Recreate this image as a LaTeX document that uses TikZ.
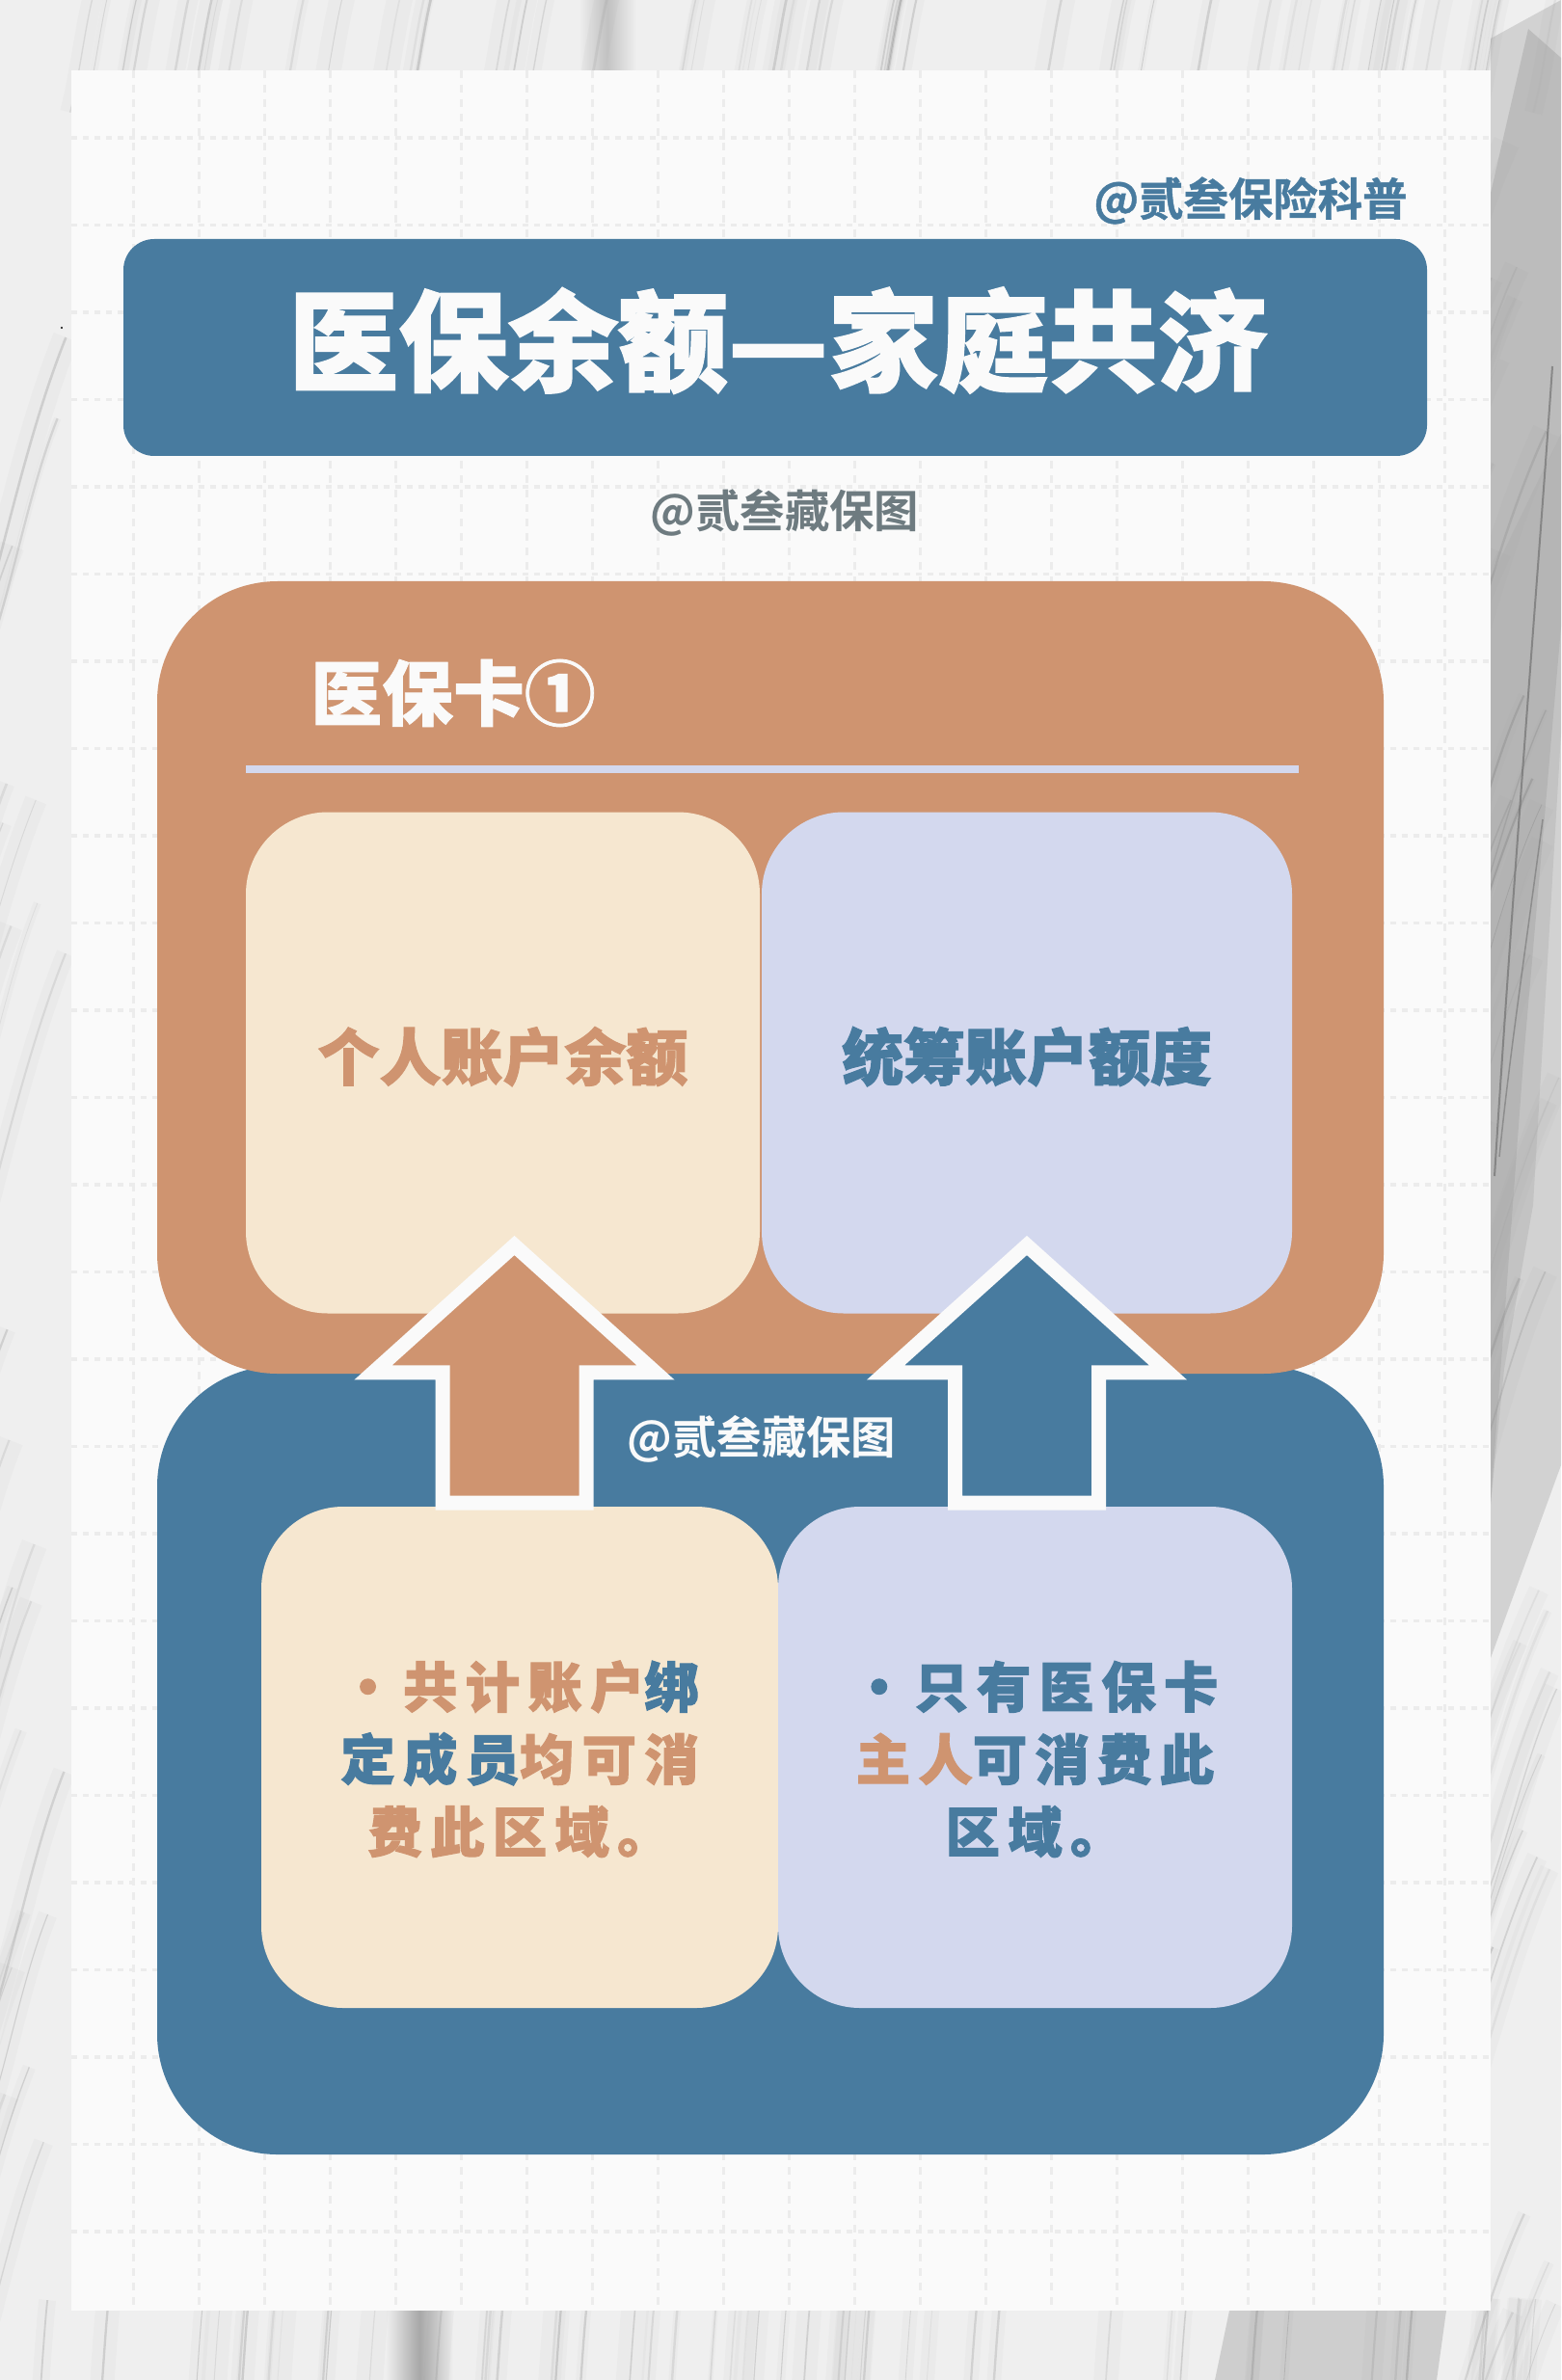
\documentclass[tikz,border=0pt]{standalone}
\usepackage{fontspec}
\usetikzlibrary{shapes.arrows}
\newfontfamily\heavyfont{Noto Sans CJK SC Black}
\newfontfamily\boldfont{Noto Sans CJK SC Bold}
\definecolor{bluepanel}{HTML}{487B9F}
\definecolor{peach}{HTML}{CF9470}
\definecolor{cream}{HTML}{F6E7D0}
\definecolor{lavender}{HTML}{D3D8EE}
\definecolor{paper}{HTML}{FAFAFA}
\definecolor{gridgrey}{HTML}{ECECEC}
\definecolor{markgrey}{HTML}{6E7B80}
\definecolor{marble}{HTML}{EFEFEF}
\definecolor{marbledark}{HTML}{A8A8A8}
\tikzset{
  panel/.style = {rounded corners = 1.25cm, minimum width = 12.72cm, inner sep = 0pt, outer sep = 0pt},
  card/.style = {rounded corners = 0.85cm, inner sep = 0pt, outer sep = 0pt, minimum height = 5.2cm},
  fatarrow/.style = {single arrow, shape border rotate = 90, anchor = tail, draw = paper, line width = 0.15cm,
    minimum height = 2.67cm, single arrow head extend = 0.72cm,
    single arrow tip angle = 96, inner xsep = 0.67cm, inner ysep = 0pt, outer sep = 0pt},
  cardhead/.style = {font = \heavyfont\addfontfeature{FakeBold = 1.5}\fontsize{18.2}{22}\selectfont, text height = 0.56cm, text depth = 0.2cm},
  cardnote/.style = {align = center, font = \heavyfont\addfontfeature{LetterSpace = 15, FakeBold = 2}\fontsize{16}{21.4}\selectfont}
}
\begin{document}
\begin{tikzpicture}
\useasboundingbox (0,0) rectangle (16.19,-24.69);
% marble behind the sheet
\begin{scope}
\clip (0,0) rectangle (16.19,-24.69);
\fill[marble] (0,0) rectangle (16.19,-24.69);
\fill[marbledark, opacity = 0.4] (15.46,-0.4) -- (16.19,0) -- (16.19,-15.2) -- (15.46,-17.2) -- cycle;
\fill[marbledark, opacity = 0.5] (15.46,-2.0) -- (15.85,-0.3) -- (16.19,-0.6) -- (16.19,-6.5) -- (15.8,-11.0) -- (15.46,-15.6) -- cycle;
\fill[marbledark, opacity = 0.35] (15.46,-6.0) -- (16.19,-4.5) -- (16.19,-7.6) -- (15.9,-12.5) -- (15.6,-14.2) -- (15.46,-15.6) -- cycle;
\fill[marbledark, opacity = 0.45] (12.75,-23.97) -- (15.0,-23.97) -- (14.9,-24.69) -- (12.6,-24.69) -- cycle;
\shade[left color = marble, right color = marble, middle color = marbledark] (4.0,-23.97) rectangle (4.7,-24.69);
\shade[left color = marble, right color = marble, middle color = marbledark!60!marble] (6.0,0) rectangle (6.6,-0.73);
\pgfmathsetseed{2301}
\foreach \xa/\xb/\ya/\yb/\lean/\least/\reach/\many in {0/16.19/-0.2/-0.1/-0.2/1.2/0.3/50, 0/16.19/23.8/23.9/-0.08/1.2/0.3/50, 0/0.74/0.7/24/-0.3/2.5/3.0/22, 15.46/16.19/0.7/24/-0.35/2.5/2.5/34}{
  \foreach \k in {1,...,\many}{
    \pgfmathsetmacro\sx{\xa+rnd*(\xb-\xa)}
    \pgfmathsetmacro\sy{\ya+rnd*(\yb-\ya)}
    \pgfmathsetmacro\len{\least+rnd*\reach}
    \pgfmathsetmacro\tone{20+rnd*45}
    \pgfmathsetmacro\thick{0.008+rnd*0.02}
    \pgfmathsetmacro\wide{0.05+rnd*0.25}
    \draw[black!40!marble, line width = \wide cm, opacity = 0.05]
      (\sx,-\sy) .. controls (\sx+\lean*\len*0.4,-\sy-\len*0.3) and (\sx+\lean*\len*0.6,-\sy-\len*0.7) .. (\sx+\lean*\len,-\sy-\len);
    \draw[black!\tone!marble, line width = \thick cm, opacity = 0.2]
      (\sx,-\sy) .. controls (\sx+\lean*\len*0.4,-\sy-\len*0.3) and (\sx+\lean*\len*0.6,-\sy-\len*0.7) .. (\sx+\lean*\len,-\sy-\len);
  }
}
\draw[black!60, line width = 0.02cm, opacity = 0.6] (16.1,-3.8) .. controls (15.95,-6) and (15.7,-9) .. (15.5,-12.2);
\draw[black!60, line width = 0.015cm, opacity = 0.5] (16.0,-8.5) .. controls (15.8,-10) and (15.65,-11) .. (15.55,-12.0);
\fill[black] (0.64,-3.4) circle (0.012);
\end{scope}
% sheet with its squares
\fill[paper] (0.74,-0.73) rectangle (15.46,-23.97);
\foreach \gx in {1.38,2.06,...,15.4}{
  \draw[gridgrey, line width = 0.03cm, dash pattern = on 0.08cm off 0.07cm] (\gx,-0.73) -- (\gx,-23.97);
}
\foreach \gy in {1.43,2.335,...,23.9}{
  \draw[gridgrey, line width = 0.035cm, dash pattern = on 0.06cm off 0.06cm] (0.74,-\gy) -- (15.46,-\gy);
}
% heading
\node[font = \boldfont\addfontfeature{FakeBold = 1}\fontsize{13.2}{16}\selectfont, text = bluepanel] (account) at (12.97,-2.08) {@贰叁保险科普};
\node[fill = bluepanel, text = paper, rounded corners = 0.32cm, minimum width = 13.52cm, minimum height = 2.25cm, inner sep = 0pt,
  font = \heavyfont\addfontfeature{FakeBold = 1.5}\fontsize{32.4}{36}\selectfont, text height = 1.0cm, text depth = 0.27cm] (title) at (8.04,-3.605) {\hspace*{0.06cm}医保余额—家庭共济};
\node[font = \boldfont\fontsize{13.2}{16}\selectfont, text = markgrey] (markA) at (8.14,-5.32) {@贰叁藏保图};
% the two panels
\node[panel, fill = bluepanel, minimum height = 8.18cm] (lower) at (7.99,-18.26) {};
\node[panel, fill = peach, minimum height = 8.22cm] (upper) at (7.99,-10.14) {};
\node[font = \heavyfont\addfontfeature{FakeBold = 1}\fontsize{21}{24}\selectfont, text = paper, anchor = west] (cardname) at (3.1,-7.19) {医保卡①};
\draw[lavender, line width = 0.08cm] (2.55,-7.98) -- (13.47,-7.98);
% upper cards
\node[card, fill = cream, minimum width = 5.33cm, text = peach, cardhead] (personal) at (5.215,-11.025) {个人账户余额};
\node[card, fill = lavender, minimum width = 5.5cm, text = bluepanel, cardhead] (pooled) at (10.65,-11.025) {统筹账户额度};
% lower cards
\node[card, fill = cream, minimum width = 5.36cm, text = peach, cardnote] (sharedNote) at (5.39,-18.23) {%
  \rule{0pt}{0.52cm}·共计账户\textcolor{bluepanel}{绑}\\\textcolor{bluepanel}{定成员}均可消\\费此区域。};
\node[card, fill = lavender, minimum width = 5.33cm, text = bluepanel, cardnote] (ownerNote) at (10.735,-18.23) {%
  \rule{0pt}{0.52cm}·只有医保卡\\\textcolor{peach}{主人}可消费此\\区域。};
% arrows between them
\node[fatarrow, fill = peach, xshift = -0.055cm, yshift = 0.04cm] (upA) at (sharedNote.north) {};
\node[fatarrow, fill = bluepanel, xshift = -0.085cm, yshift = 0.04cm] (upB) at (ownerNote.north) {};
\node[font = \boldfont\fontsize{13.2}{16}\selectfont, text = paper] (markB) at (7.9,-14.93) {@贰叁藏保图};
\end{tikzpicture}
\end{document}
